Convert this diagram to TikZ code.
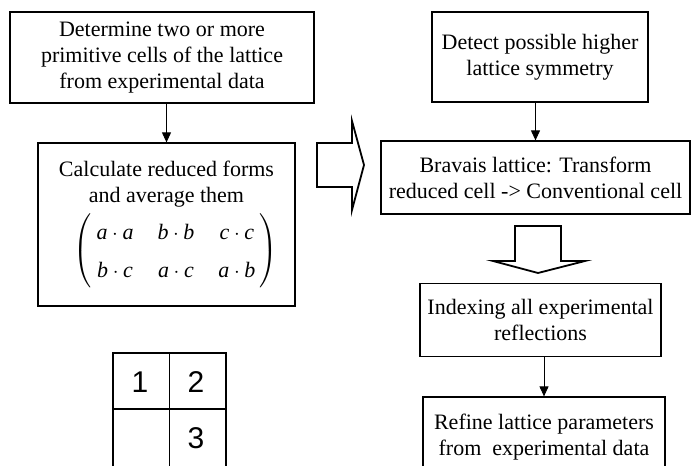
\documentclass[tikz,border=0pt]{standalone}
\usepackage{amsmath}
\usepackage{fontspec}
\setmainfont{Liberation Serif}
\newfontfamily\cellfont{Liberation Sans}
\usetikzlibrary{arrows.meta}

\newcommand\dotprod[2]{\textit{#1}\cdot\textit{#2}}

\begin{document}
\begin{tikzpicture}[x=1bp,y=-1bp,
    stepbox/.style={draw,line width=1.2bp,align=center,inner sep=0pt,
      font=\fontsize{22bp}{26bp}\selectfont},
    cellnum/.style={font=\cellfont\fontsize{30bp}{30bp}\selectfont},
    blockarrow/.style={draw,line width=1.8bp,line join=miter}]
  \useasboundingbox (0,0) rectangle (692,466);

  \node[stepbox,minimum width=304bp,minimum height=91bp] (b1) at (162,57.5)
    {Determine two or more\\primitive cells of the lattice\\from experimental data};
  \node[stepbox,minimum width=257bp,minimum height=163bp] (b2) at (166.5,224.5)
    {Calculate reduced forms\\and average them\\[5bp]
     \hspace*{18bp}{\arraycolsep=12bp\renewcommand\arraystretch{1.45}%
      $\left(\begin{array}{@{\hspace{5bp}}ccc@{\hspace{4bp}}}
        \dotprod{a}{a} & \dotprod{b}{b} & \dotprod{c}{c}\\
        \dotprod{b}{c} & \dotprod{a}{c} & \dotprod{a}{b}
      \end{array}\right)$}};
  \node[stepbox,minimum width=216bp,minimum height=90bp] (b3) at (540,57)
    {Detect possible higher\\lattice symmetry};
  \node[stepbox,minimum width=309bp,minimum height=73bp] (b4) at (535.5,177.5)
    {Bravais lattice: Transform\\reduced cell -> Conventional cell};
  \node[stepbox,minimum width=241bp,minimum height=73bp] (b5) at (540.5,320)
    {Indexing all experimental\\reflections};
  \node[stepbox,minimum width=242bp,minimum height=80bp] (b6) at (544,437)
    {Refine lattice parameters\\from~ experimental data};

  \def\steps {b1/b2, b3/b4, b5/b6}  % thin arrows straight down
  \foreach \u\v in \steps
  {  \draw[-{Triangle[length=10bp,width=9bp]},line width=0.9bp]
       (\v.north |- \u.south) -- (\v.north);
  }

  % hollow block arrows
  \draw[blockarrow] (317,143) -- (352,143) -- (352,121) -- (364,165)
    -- (352,210) -- (352,187) -- (317,187) -- cycle;
  \draw[blockarrow] (515,226) -- (561,226) -- (561,261) -- (585,261)
    -- (538,273) -- (493,261) -- (515,261) -- cycle;

  % numbered grid
  \draw[line width=1.2bp] (113,353) rectangle (226,490);
  \draw[line width=1.2bp] (169.5,353) -- (169.5,490);
  \draw[line width=1.2bp] (113,409) -- (226,409);
  \node[cellnum] (c1) at (140,382) {1};
  \node[cellnum] (c2) at (196,382) {2};
  \node[cellnum] (c3) at (196,438) {3};
\end{tikzpicture}
\end{document}
